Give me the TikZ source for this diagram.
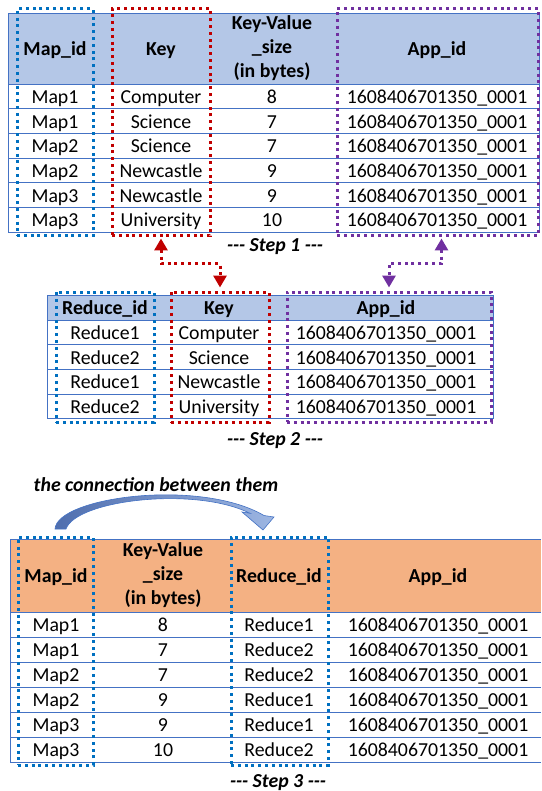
\documentclass[tikz,border=0pt]{standalone}
\usepackage{fontspec}
\setmainfont{Carlito}
\usetikzlibrary{arrows.meta}

\definecolor{hdrblue}{HTML}{B4C7E7}
\definecolor{hdrorange}{HTML}{F4B183}
\definecolor{gridblue}{HTML}{4472C4}
\definecolor{dotblue}{HTML}{0070C0}
\definecolor{dotred}{HTML}{C00000}
\definecolor{dotpurple}{HTML}{7030A0}
\definecolor{arrowdark}{HTML}{4F6EAE}
\definecolor{arrowlight}{HTML}{9DB6E2}

\newcommand{\cellfont}{\fontsize{19.8}{24}\selectfont}
\newcommand{\tridash}{\hbox{-}\hbox{-}\hbox{-}}
\newcommand{\appid}{1608406701350\_0001}

\begin{document}
\begin{tikzpicture}[x=1pt,y=-1pt,
  cell/.style={font=\cellfont,inner sep=0pt,text height=12.7pt,text depth=0pt},
  head/.style={cell,font=\cellfont\bfseries},
  headml/.style={font=\cellfont\bfseries,inner sep=0pt,align=center},
  grid/.style={draw=gridblue,line width=0.8pt},
  dotbox/.style={line width=3pt,dash pattern=on 3pt off 3.8pt,inner sep=0pt},
  steplbl/.style={cell,font=\cellfont\bfseries\itshape},
  link/.style={line width=3pt,dash pattern=on 3pt off 3.8pt,
    {Triangle[width=13pt,length=12pt]}-{Triangle[width=13pt,length=12pt]},
    shorten <=1pt,shorten >=3pt}]
\useasboundingbox (0,0) rectangle (541,791);

% Step 1: map output
\fill[hdrblue] (8,13) rectangle (539,84);
\foreach \k in {0,...,6} \draw[grid] (8,{84+\k*24.7}) -- (539,{84+\k*24.7});
\draw[grid] (8,13) rectangle (539,232.2);
\node[head] (oneMapH) at (55,49) {Map\_id};
\node[head] (oneKeyH) at (161,49) {Key};
\node[headml] (oneSizeH) at (272,48.5) {Key-Value\\\_size\\(in bytes)};
\node[head] (oneAppH) at (437,49) {App\_id};
\foreach \m/\w/\s [count=\r] in {Map1/Computer/8,Map1/Science/7,Map2/Science/7,
    Map2/Newcastle/9,Map3/Newcastle/9,Map3/University/10} {
  \pgfmathsetmacro{\y}{72.3+\r*24.7}
  \node[cell] (oneMap\r) at (55,\y) {\m};
  \node[cell] (oneKey\r) at (161,\y) {\w};
  \node[cell] (oneSize\r) at (272,\y) {\s};
  \node[cell] (oneApp\r) at (437,\y) {\appid};
}
\node[dotbox,draw=dotblue,minimum width=76pt,minimum height=227pt] (mapA) at (55,122.5) {};
\node[dotbox,draw=dotred,minimum width=98pt,minimum height=227pt] (keyA) at (161,122.5) {};
\node[dotbox,draw=dotpurple,minimum width=201pt,minimum height=227pt] (appA) at (437.5,122.5) {};
\node[steplbl] (step1) at (275,245) {\tridash{} Step 1 \tridash};

% Step 2: reduce assignment
\fill[hdrblue] (47,295) rectangle (493,320);
\foreach \k in {0,...,4} \draw[grid] (47,{320+\k*24.7}) -- (493,{320+\k*24.7});
\draw[grid] (47,295) rectangle (493,418.8);
\node[head] (twoRedH) at (105,308) {Reduce\_id};
\node[head] (twoKeyH) at (219,308) {Key};
\node[head] (twoAppH) at (386,308) {App\_id};
\foreach \d/\w [count=\r] in {Reduce1/Computer,Reduce2/Science,Reduce1/Newcastle,Reduce2/University} {
  \pgfmathsetmacro{\y}{308.3+\r*24.7}
  \node[cell] (twoRed\r) at (105,\y) {\d};
  \node[cell] (twoKey\r) at (219,\y) {\w};
  \node[cell] (twoApp\r) at (386,\y) {\appid};
}
\node[dotbox,draw=dotblue,minimum width=98pt,minimum height=130pt] (redB) at (105,357) {};
\node[dotbox,draw=dotred,minimum width=98pt,minimum height=130pt] (keyB) at (220,357) {};
\node[dotbox,draw=dotpurple,minimum width=204pt,minimum height=130pt] (appB) at (389,357) {};
\node[steplbl] (step2) at (275,439) {\tridash{} Step 2 \tridash};

% links between step 1 and step 2
\draw[link,draw=dotred] (keyA.south) -- ++(0,26) -| (keyB.north);
\draw[link,draw=dotpurple] ([xshift=4pt]appA.south) -- ++(0,26) -| (appB.north);

% Step 3: joined result
\node[steplbl] (conn) at (156,485) {the connection between them};
\fill[hdrorange] (10,539) rectangle (541,612);
\foreach \k in {0,...,6} \draw[grid] (10,{612+\k*25}) -- (541,{612+\k*25});
\draw[grid] (541,539) -- (10,539) -- (10,762) -- (541,762);
\node[head] (thrMapH) at (56,576) {Map\_id};
\node[headml] (thrSizeH) at (163,575.5) {Key-Value\\\_size\\(in bytes)};
\node[head] (thrRedH) at (279,576) {Reduce\_id};
\node[head] (thrAppH) at (438,576) {App\_id};
\foreach \m/\s/\d [count=\r] in {Map1/8/Reduce1,Map1/7/Reduce2,Map2/7/Reduce2,
    Map2/9/Reduce1,Map3/9/Reduce1,Map3/10/Reduce2} {
  \pgfmathsetmacro{\y}{600+\r*25}
  \node[cell] (thrMap\r) at (56,\y) {\m};
  \node[cell] (thrSize\r) at (163,\y) {\s};
  \node[cell] (thrRed\r) at (279,\y) {\d};
  \node[cell] (thrApp\r) at (438,\y) {\appid};
}
\node[dotbox,draw=dotblue,minimum width=75pt,minimum height=228pt] (mapC) at (55.5,651) {};
\node[dotbox,draw=dotblue,minimum width=97pt,minimum height=228pt] (redC) at (279.5,651) {};
\node[steplbl] (step3) at (278,781) {\tridash{} Step 3 \tridash};

% curved block arrow from Map_id to Reduce_id
\path[left color=arrowdark,right color=arrowlight,draw=gridblue,line width=0.6pt]
  (55,529) .. controls (57,497) and (200,478) .. (264,515.5)
  -- (274,517) -- (263,530) -- (242,512) -- (250,513.3)
  .. controls (195,486) and (76,500) .. (66,529) -- cycle;
\end{tikzpicture}
\end{document}
